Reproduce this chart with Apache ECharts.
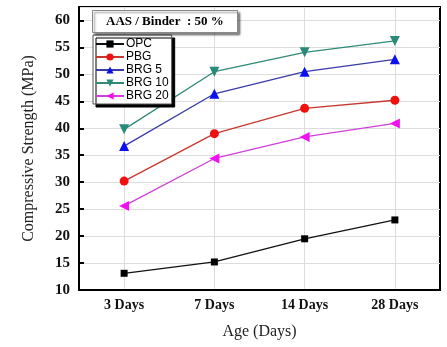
<!DOCTYPE html>
<html>
<head>
<meta charset="utf-8">
<script src="https://cdn.jsdelivr.net/npm/echarts@6/dist/echarts.min.js"></script>
<style>
  html, body { margin: 0; padding: 0; background: #fff; }
  #chart { width: 447px; height: 347px; }
</style>
</head>
<body>
<div id="chart"></div>
<script>
// curing ages
const ages = ['3 Days', '7 Days', '14 Days', '28 Days'];
// compressive strength (MPa)
const opc = [13.1, 15.2, 19.5, 23.0];
const pbg = [30.2, 39.0, 43.7, 45.2];
const brg5 = [36.7, 46.4, 50.5, 52.8];
const brg10 = [39.8, 50.5, 54.1, 56.2];
const brg20 = [25.6, 34.4, 38.4, 40.9];

const serif = '"Liberation Serif", "Times New Roman", serif';
const sans = '"Liberation Sans", Arial, sans-serif';

const myChart = echarts.init(document.getElementById('chart'));

function line(name, data, lineColor, markColor, symbol, size, rotate) {
    return {
        name: name,
        type: 'line',
        data: data,
        symbol: symbol,
        symbolSize: size,
        symbolRotate: rotate,
        lineStyle: { color: lineColor, width: 1.3 },
        itemStyle: { color: markColor },
        emphasis: { disabled: true },
        z: 3
    };
}

const option = {
    animation: false,
    title: {
        text: 'AAS / Binder  : 50 %',
        left: 92,
        top: 10,
        padding: [5, 14, 5, 14],
        backgroundColor: '#fff',
        borderColor: '#888',
        borderWidth: 1,
        shadowColor: 'rgba(0,0,0,0.45)',
        shadowOffsetX: 2,
        shadowOffsetY: 2,
        shadowBlur: 2,
        textStyle: { fontFamily: serif, fontWeight: 'bold', fontSize: 13, color: '#000' }
    },
    legend: {
        orient: 'vertical',
        left: 93,
        top: 35,
        itemGap: 1,
        itemWidth: 28,
        itemHeight: 9,
        padding: [3, 3, 2, 2],
        backgroundColor: '#fff',
        borderColor: '#555',
        borderWidth: 1,
        shadowColor: '#000',
        shadowOffsetX: 3,
        shadowOffsetY: 3,
        shadowBlur: 0,
        data: ['OPC', 'PBG', 'BRG 5', 'BRG 10', 'BRG 20'],
        textStyle: { fontFamily: sans, fontSize: 12, color: '#000', padding: [0, 0, 0, -3] }
    },
    grid: {
        left: 79,
        right: 7,
        top: 7,
        bottom: 57,
        show: true,
        borderColor: '#000',
        borderWidth: 2
    },
    xAxis: {
        type: 'category',
        data: ages,
        boundaryGap: true,
        name: 'Age (Days)',
        nameLocation: 'middle',
        nameGap: 34,
        nameTextStyle: { fontFamily: serif, fontSize: 16, color: '#222' },
        axisLine: { lineStyle: { color: '#000', width: 2 } },
        axisTick: { inside: true, alignWithLabel: true, length: 5, lineStyle: { color: '#000', width: 2 } },
        axisLabel: { fontFamily: serif, fontWeight: 'bold', fontSize: 14, color: '#111', margin: 8 },
        splitLine: { show: true, alignWithLabel: true, lineStyle: { color: '#ddd', width: 1 } }
    },
    yAxis: {
        type: 'value',
        min: 10,
        max: 62.5,
        interval: 5,
        name: 'Compressive Strength (MPa)',
        nameLocation: 'middle',
        nameGap: 42,
        nameTextStyle: { fontFamily: serif, fontSize: 16, color: '#222' },
        axisLine: { show: true, lineStyle: { color: '#000', width: 2 } },
        axisTick: { show: true, inside: true, length: 5, lineStyle: { color: '#000', width: 2 } },
        axisLabel: { fontFamily: serif, fontWeight: 'bold', fontSize: 15, color: '#111', margin: 9, showMaxLabel: false },
        splitLine: { show: true, lineStyle: { color: '#ddd', width: 1 } }
    },
    series: [
        line('OPC', opc, '#111', '#000', 'rect', 7, 0),
        line('PBG', pbg, '#c8372f', '#f01010', 'circle', 9, 0),
        line('BRG 5', brg5, '#3a3aa8', '#0a10f0', 'triangle', 10, 0),
        line('BRG 10', brg10, '#2f8a78', '#2a8a78', 'triangle', 10, 180),
        line('BRG 20', brg20, '#d040d8', '#f010f0', 'triangle', 10, 90)
    ]
};

myChart.setOption(option);

window.addEventListener('resize', () => {
    myChart.resize();
});
</script>
</body>
</html>
